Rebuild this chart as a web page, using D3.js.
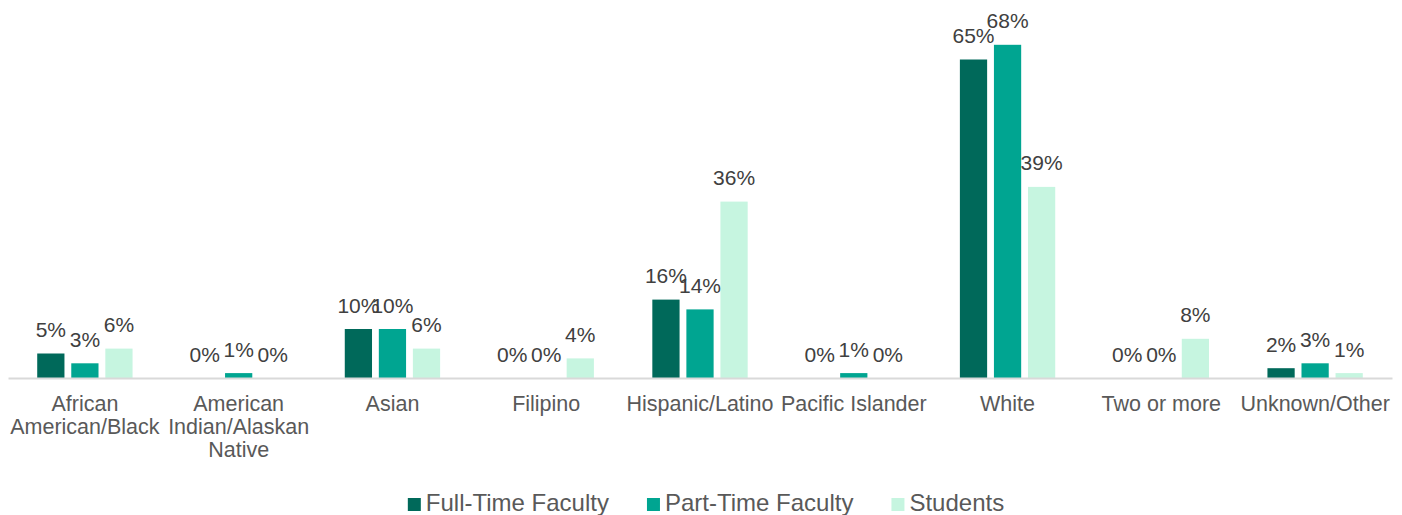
<!DOCTYPE html>
<html>
<head>
<meta charset="utf8">
<title>Race/Ethnicity</title>
<style>
  body { margin: 0; background: #fff; }
  svg { font-family: "Liberation Sans", Arial, sans-serif; }
  .domain { stroke: #d9d9d9; stroke-width: 2px; }
  .bar-label { fill: #404040; font-size: 21px; text-anchor: middle; }
  .cat-label { fill: #595959; font-size: 21.5px; }
  .legend text { fill: #595959; font-size: 24px; }
</style>
</head>
<body>
<svg width="1402" height="515"></svg>
<script src="https://d3js.org/d3.v7.min.js"></script>
<script>
// categories along the x axis
var categories = ["African American/Black", "American Indian/Alaskan Native", "Asian", "Filipino",
  "Hispanic/Latino", "Pacific Islander", "White", "Two or more", "Unknown/Other"];

var series = ["Full-Time Faculty", "Part-Time Faculty", "Students"];

// percent values
var fullTime = [0.05, 0.00, 0.10, 0.00, 0.16, 0.00, 0.65, 0.00, 0.02];
var partTime = [0.03, 0.01, 0.10, 0.00, 0.14, 0.01, 0.68, 0.00, 0.03];
var students = [0.06, 0.00, 0.06, 0.04, 0.36, 0.00, 0.39, 0.08, 0.01];

var colors = ["#00695a", "#00a591", "#c6f5e0"];

var svg = d3.select("svg"),
    baseY = 378;

var x0 = d3.scaleBand()
    .domain(categories)
    .range([8, 1392])
    .paddingInner(0.38)
    .paddingOuter(0.19);

var x1 = d3.scaleBand()
    .domain(series)
    .range([0, x0.bandwidth()])
    .padding(0.2)
    .paddingOuter(0);

var y = d3.scaleLinear()
    .domain([0, 0.7])
    .range([baseY, 35]);

var color = d3.scaleOrdinal().domain(series).range(colors);
var fmt = d3.format(".0%");

var rows = categories.map(function(c, i) {
  return {cat: c, vals: [
    {s: series[0], v: fullTime[i]},
    {s: series[1], v: partTime[i]},
    {s: series[2], v: students[i]}
  ]};
});

var groups = svg.append("g").selectAll("g")
    .data(rows)
    .enter().append("g")
    .attr("transform", function(d) { return "translate(" + x0(d.cat) + ",0)"; });

groups.selectAll("rect")
    .data(function(d) { return d.vals; })
    .enter().append("rect")
    .attr("x", function(d) { return x1(d.s); })
    .attr("y", function(d) { return y(d.v); })
    .attr("width", x1.bandwidth())
    .attr("height", function(d) { return baseY - y(d.v); })
    .attr("fill", function(d) { return color(d.s); });

// axis with wrapped category labels
var axis = svg.append("g")
    .attr("transform", "translate(0," + baseY + ")")
    .call(d3.axisBottom(x0).tickSize(0).tickSizeOuter(0));

axis.selectAll(".tick text").remove();
axis.selectAll(".tick").append("text")
    .attr("class", "cat-label")
    .attr("text-anchor", "middle")
    .attr("y", 33)
    .each(function(d) {
      var t = d3.select(this), words = d.split(" "), line = [], lines = [];
      var probe = t.append("tspan");
      words.forEach(function(w) {
        line.push(w);
        probe.text(line.join(" "));
        if (probe.node().getComputedTextLength() > 158 && line.length > 1) {
          line.pop();
          lines.push(line.join(" "));
          line = [w];
        }
      });
      lines.push(line.join(" "));
      probe.remove();
      lines.forEach(function(l, i) {
        t.append("tspan").attr("x", 0).attr("y", 33 + i * 23).text(l);
      });
    });
axis.attr("font-family", null).attr("font-size", null);

// value labels
groups.selectAll(".bar-label")
    .data(function(d) { return d.vals; })
    .enter().append("text")
    .attr("class", "bar-label")
    .attr("x", function(d) { return x1(d.s) + x1.bandwidth() / 2; })
    .attr("y", function(d) { return y(d.v) - 16.5; })
    .text(function(d) { return fmt(d.v); });

// legend
var legend = svg.append("g").attr("class", "legend");
var items = legend.selectAll("g")
    .data(series)
    .enter().append("g");
items.append("rect")
    .attr("y", 498)
    .attr("width", 13)
    .attr("height", 13)
    .attr("fill", function(d) { return color(d); });
items.append("text")
    .attr("x", 18)
    .attr("y", 511)
    .text(function(d) { return d; });

var pos = 0;
items.each(function() {
  var g = d3.select(this);
  var w = 18 + g.select("text").node().getComputedTextLength();
  g.attr("transform", "translate(" + pos + ",0)");
  pos += w + 38;
});
var total = pos - 38;
legend.attr("transform", "translate(" + (706 - total / 2) + ",0)");
</script>
</body>
</html>
